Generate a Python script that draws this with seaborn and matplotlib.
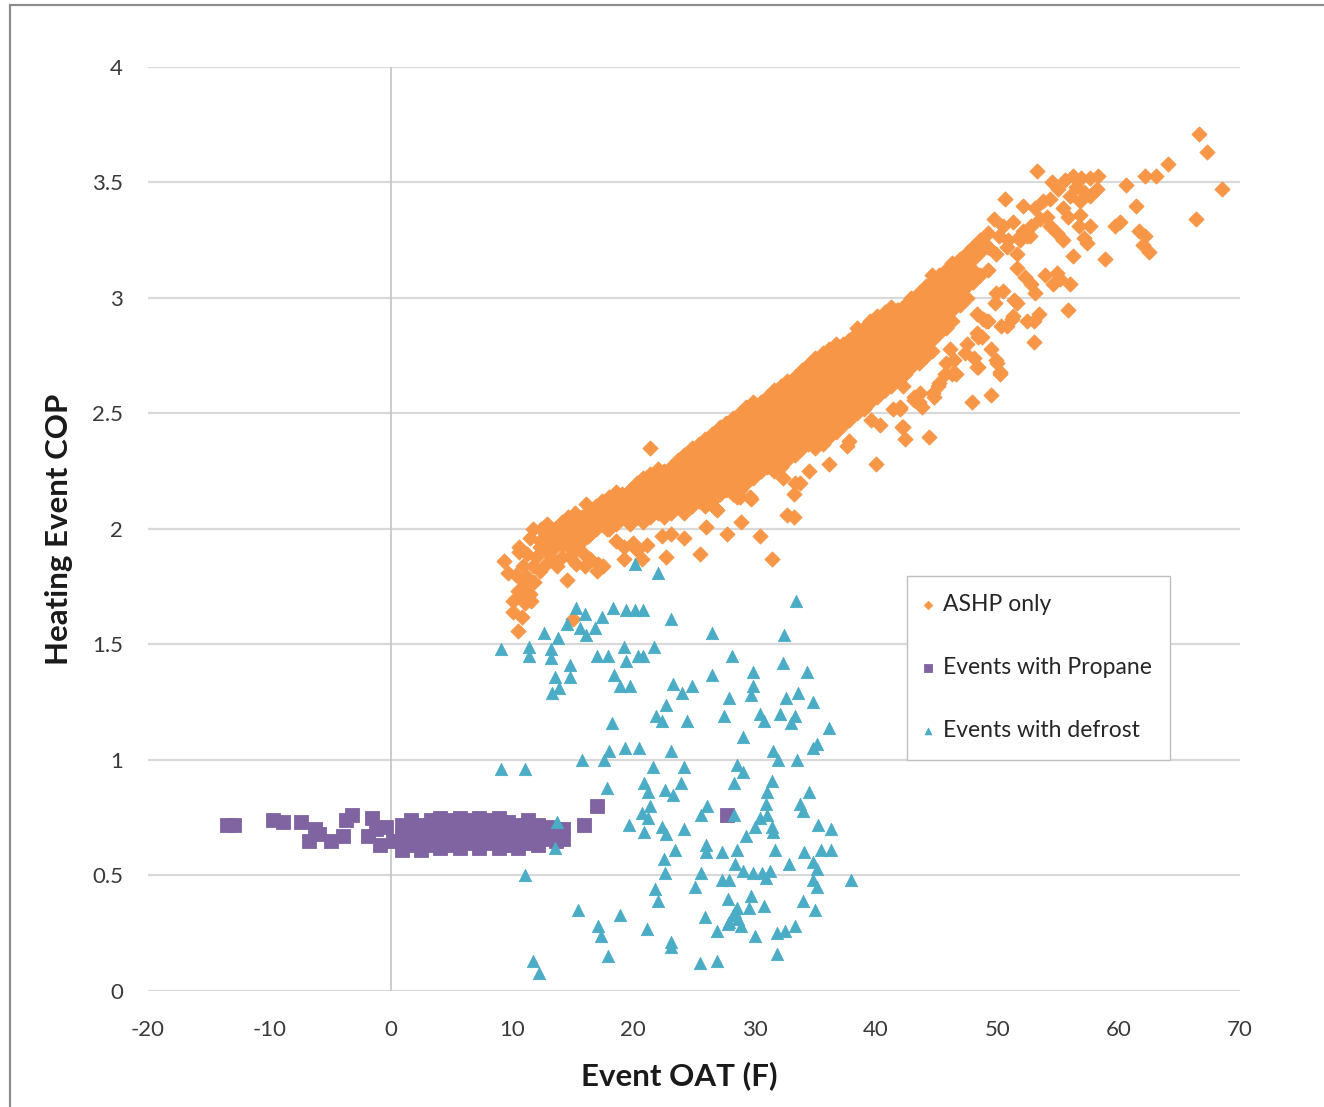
import pandas as pd
import seaborn as sns
import matplotlib.pyplot as plt
from matplotlib.patches import Rectangle

# ---- data: (Event OAT F, Heating Event COP) ----

# ASHP only: scattered events around the main band
ashp_pts = [
    (66.6, 3.71), (67.3, 3.63), (68.5, 3.47), (66.4, 3.34), (64.1, 3.58), (63.1, 3.53), (62.2, 3.53),
    (60.6, 3.49), (61.4, 3.40), (60.1, 3.33), (59.7, 3.31), (61.7, 3.29), (62.2, 3.27), (62.0, 3.23),
    (62.5, 3.20), (58.9, 3.17), (53.3, 3.55), (50.6, 3.43), (52.1, 3.40), (53.1, 3.39), (53.8, 3.42),
    (54.3, 3.43), (54.5, 3.50), (55.0, 3.47), (55.6, 3.51), (56.2, 3.53), (56.9, 3.52), (57.6, 3.52),
    (58.3, 3.53), (56.5, 3.48), (57.1, 3.46), (57.6, 3.44), (58.2, 3.47), (56.0, 3.44), (56.8, 3.42),
    (55.4, 3.39), (55.8, 3.35), (56.8, 3.36), (57.6, 3.31), (56.7, 3.31), (57.1, 3.26), (57.4, 3.24),
    (55.4, 3.25), (56.2, 3.18), (54.9, 3.28), (54.3, 3.31), (53.5, 3.34), (54.1, 3.35), (52.8, 3.31),
    (52.4, 3.27), (51.9, 3.25), (53.9, 3.10), (54.9, 3.11), (54.6, 3.06), (55.2, 3.08), (56.0, 3.06),
    (55.8, 2.95), (51.6, 3.13), (52.3, 3.09), (52.8, 3.06), (53.1, 3.02), (53.4, 2.93), (53.0, 2.90),
    (52.4, 2.90), (51.3, 2.92), (50.8, 2.88), (50.3, 2.88), (51.6, 2.98), (53.0, 2.81), (49.8, 2.98),
    (49.9, 3.02), (50.5, 3.03), (49.2, 2.90), (48.8, 2.91), (48.3, 2.93), (48.3, 2.85), (48.7, 2.83),
    (49.5, 2.78), (49.9, 2.73), (50.2, 2.68), (49.5, 2.58), (47.9, 2.55), (48.1, 2.74), (48.4, 2.70),
    (47.3, 2.76), (46.1, 2.78), (46.4, 2.73), (46.6, 2.67), (45.7, 2.67), (45.1, 2.62), (44.8, 2.57),
    (44.4, 2.40), (42.2, 2.44), (42.0, 2.53), (43.3, 2.56), (43.8, 2.53),
    (49.7, 3.34), (50.5, 3.31), (51.3, 3.33), (52.1, 3.29), (50.1, 3.27), (50.9, 3.25), (51.9, 3.27),
    (52.7, 3.27), (49.2, 3.22), (49.9, 3.19), (50.8, 3.22), (51.6, 3.19), (47.6, 3.20), (48.1, 3.18),
    (46.9, 3.15), (46.1, 3.11), (45.3, 3.09), (43.8, 3.02), (44.4, 3.03), (42.5, 2.96), (41.7, 2.95),
    (41.1, 2.92), (39.5, 2.89), (38.4, 2.87),
    (43.5, 2.55), (44.7, 2.59), (45.2, 2.63), (46.3, 2.67), (45.8, 2.72), (47.5, 2.80), (48.4, 2.83),
    (50.0, 2.72), (50.2, 2.67), (48.3, 2.70), (49.1, 2.90), (51.2, 2.91), (51.4, 2.99), (42.0, 2.52),
    (43.1, 2.57), (42.2, 2.62),
    (21.4, 2.35), (16.1, 2.11), (11.7, 2.00), (13.0, 2.00), (13.8, 2.00), (11.5, 1.96), (12.3, 1.95),
    (12.3, 1.92), (10.6, 1.92), (10.6, 1.90), (9.3, 1.86), (9.7, 1.81), (10.9, 1.84), (11.7, 1.84),
    (12.3, 1.82), (11.2, 1.79), (10.9, 1.75), (11.5, 1.72), (10.6, 1.71), (10.1, 1.69), (10.1, 1.64),
    (11.6, 1.69), (10.5, 1.56), (13.5, 1.92), (14.1, 1.88), (13.7, 1.84), (14.5, 1.78), (14.9, 1.98),
    (15.6, 1.95), (14.8, 1.88), (15.9, 1.89), (16.4, 1.87), (15.3, 1.85), (16.0, 1.84), (17.1, 1.85),
    (17.5, 1.84), (17.0, 1.82), (16.4, 2.04), (17.2, 2.02), (16.4, 1.98), (17.8, 2.00), (18.3, 2.04),
    (18.6, 1.95), (19.2, 1.92), (20.0, 1.94), (20.3, 1.91), (21.1, 1.93), (19.2, 1.87), (20.7, 1.87),
    (22.7, 1.88), (22.4, 1.97), (23.1, 1.98), (24.2, 1.96), (25.5, 1.89), (26.0, 2.01), (27.7, 1.98),
    (28.9, 2.03), (30.4, 1.97), (31.4, 1.87), (32.3, 2.22), (28.5, 2.14), (29.7, 2.13), (26.9, 2.08),
    (15.0, 1.61), (33.2, 2.05), (26.7, 2.09), (29.6, 2.14), (28.8, 2.14), (33.3, 2.20), (33.7, 2.20),
    (33.2, 2.15), (34.5, 2.25), (36.1, 2.28), (37.6, 2.36), (37.8, 2.38), (40.0, 2.28), (42.1, 2.44),
    (41.4, 2.52), (40.3, 2.45), (39.6, 2.47), (43.1, 2.56), (43.6, 2.59), (32.7, 2.06), (42.4, 2.39),
    (10.3, 1.80), (11.0, 1.77), (11.8, 1.77), (10.5, 1.73), (11.1, 1.68), (10.8, 1.62), (12.0, 1.88),
    (11.2, 1.89), (12.9, 1.90), (13.3, 1.87), (14.5, 1.93), (15.2, 1.91), (13.9, 1.96), (12.8, 1.85),
]

# ASHP only: dense core of the band, read column by column (OAT, [COP, ...])
ashp_core = [
    (12.4, [1.95, 2.00]), (12.9, [1.92, 1.97, 2.02]), (13.5, [1.95, 2.00]),
    (14.1, [1.93, 1.98, 2.03]), (14.6, [1.95, 2.00, 2.05]), (15.2, [1.97, 2.02, 2.07]),
    (15.8, [1.95, 2.00, 2.05]), (16.3, [1.97, 2.02, 2.07]), (16.9, [2.00, 2.05, 2.10]),
    (17.4, [2.02, 2.07, 2.12]), (18.0, [2.00, 2.05, 2.10, 2.14]), (18.6, [2.02, 2.07, 2.12, 2.16]),
    (19.1, [2.05, 2.10, 2.15]), (19.7, [2.02, 2.07, 2.12, 2.17]), (20.3, [2.05, 2.10, 2.15, 2.20]),
    (20.8, [2.03, 2.08, 2.13, 2.18, 2.22]), (21.4, [2.05, 2.10, 2.15, 2.20, 2.24]),
    (22.0, [2.07, 2.12, 2.17, 2.22, 2.26]), (22.5, [2.05, 2.10, 2.15, 2.20, 2.25]),
    (23.1, [2.07, 2.12, 2.17, 2.22, 2.27]), (23.7, [2.10, 2.15, 2.20, 2.25, 2.30]),
    (24.2, [2.07, 2.12, 2.17, 2.22, 2.27, 2.32]), (24.8, [2.10, 2.15, 2.20, 2.25, 2.30, 2.35]),
    (25.4, [2.12, 2.17, 2.22, 2.27, 2.32, 2.37]), (25.9, [2.10, 2.15, 2.20, 2.25, 2.30, 2.35, 2.39]),
    (26.5, [2.12, 2.17, 2.22, 2.27, 2.32, 2.37, 2.41]), (27.1, [2.15, 2.20, 2.25, 2.30, 2.35, 2.40, 2.44]),
    (27.6, [2.17, 2.22, 2.27, 2.32, 2.37, 2.42, 2.46]),
    (28.2, [2.15, 2.20, 2.25, 2.30, 2.35, 2.40, 2.45, 2.48]),
    (28.8, [2.17, 2.22, 2.27, 2.32, 2.37, 2.42, 2.47, 2.50]),
    (29.3, [2.20, 2.25, 2.30, 2.35, 2.40, 2.45, 2.50, 2.53]),
    (29.9, [2.22, 2.27, 2.32, 2.37, 2.42, 2.47, 2.52, 2.55]),
    (30.5, [2.25, 2.30, 2.35, 2.40, 2.45, 2.50, 2.55]),
    (31.0, [2.27, 2.32, 2.37, 2.42, 2.47, 2.52, 2.57]),
    (31.6, [2.25, 2.30, 2.35, 2.40, 2.45, 2.50, 2.55, 2.60]),
    (32.2, [2.27, 2.32, 2.37, 2.42, 2.47, 2.52, 2.57, 2.62]),
    (32.7, [2.30, 2.35, 2.40, 2.45, 2.50, 2.55, 2.60, 2.64]),
    (33.3, [2.32, 2.37, 2.42, 2.47, 2.52, 2.57, 2.62, 2.66]),
    (33.9, [2.35, 2.40, 2.45, 2.50, 2.55, 2.60, 2.65, 2.69]),
    (34.4, [2.37, 2.42, 2.47, 2.52, 2.57, 2.62, 2.67, 2.71]),
    (35.0, [2.35, 2.40, 2.45, 2.50, 2.55, 2.60, 2.65, 2.70, 2.74]),
    (35.6, [2.37, 2.42, 2.47, 2.52, 2.57, 2.62, 2.67, 2.72, 2.76]),
    (36.1, [2.40, 2.45, 2.50, 2.55, 2.60, 2.65, 2.70, 2.75, 2.78]),
    (36.7, [2.42, 2.47, 2.52, 2.57, 2.62, 2.67, 2.72, 2.77, 2.80]),
    (37.3, [2.45, 2.50, 2.55, 2.60, 2.65, 2.70, 2.75, 2.80]),
    (37.8, [2.47, 2.52, 2.57, 2.62, 2.67, 2.72, 2.77, 2.82]),
    (38.4, [2.50, 2.55, 2.60, 2.65, 2.70, 2.75, 2.80, 2.85]),
    (39.0, [2.52, 2.57, 2.62, 2.67, 2.72, 2.77, 2.82, 2.87]),
    (39.5, [2.55, 2.60, 2.65, 2.70, 2.75, 2.80, 2.85, 2.90]),
    (40.1, [2.57, 2.62, 2.67, 2.72, 2.77, 2.82, 2.87, 2.92]),
    (40.7, [2.60, 2.65, 2.70, 2.75, 2.80, 2.85, 2.90, 2.94]),
    (41.2, [2.62, 2.67, 2.72, 2.77, 2.82, 2.87, 2.92, 2.96]),
    (41.8, [2.65, 2.70, 2.75, 2.80, 2.85, 2.90, 2.95]),
    (42.4, [2.67, 2.72, 2.77, 2.82, 2.87, 2.92, 2.97]),
    (42.9, [2.70, 2.75, 2.80, 2.85, 2.90, 2.95, 3.00]),
    (43.5, [2.72, 2.77, 2.82, 2.87, 2.92, 2.97, 3.02]),
    (44.1, [2.75, 2.80, 2.85, 2.90, 2.95, 3.00, 3.05]),
    (44.6, [2.77, 2.82, 2.87, 2.92, 2.97, 3.02, 3.07, 3.10]),
    (45.2, [2.85, 2.90, 2.95, 3.00, 3.05, 3.10]),
    (45.8, [2.87, 2.92, 2.97, 3.02, 3.07, 3.12]),
    (46.3, [2.90, 2.95, 3.00, 3.05, 3.10, 3.15]),
    (46.9, [2.97, 3.02, 3.07, 3.12, 3.17]),
    (47.5, [3.00, 3.05, 3.10, 3.15]),
    (48.0, [3.07, 3.12, 3.17, 3.22]),
    (48.6, [3.10, 3.20, 3.25]),
    (49.2, [3.12, 3.22, 3.28]),
]

# Events with propane: isolated squares
propane_pts = [
    (-13.5, 0.72), (-12.9, 0.72), (-9.7, 0.74), (-8.9, 0.73), (-7.4, 0.73), (-6.7, 0.65), (-6.2, 0.70),
    (-5.9, 0.68), (-4.9, 0.65), (-3.9, 0.67), (-3.7, 0.74), (-3.2, 0.76), (-1.9, 0.67), (-1.5, 0.75),
    (-1.2, 0.70), (-0.9, 0.63), (-0.4, 0.71), (0.2, 0.65), (15.9, 0.72), (17.0, 0.80), (27.7, 0.76),
]

# Events with propane: dense block between 0 and 15 F
propane_core = [
    (0.9, [0.61, 0.67, 0.72]), (1.7, [0.63, 0.69, 0.74]), (2.5, [0.61, 0.66, 0.72]),
    (3.3, [0.63, 0.68, 0.74]), (4.1, [0.62, 0.67, 0.72, 0.75]), (4.9, [0.63, 0.69, 0.74]),
    (5.7, [0.62, 0.67, 0.72, 0.75]), (6.5, [0.64, 0.69, 0.74]), (7.3, [0.62, 0.67, 0.72, 0.75]),
    (8.1, [0.64, 0.69, 0.74]), (8.9, [0.62, 0.67, 0.72, 0.75]), (9.7, [0.63, 0.68, 0.73]),
    (10.5, [0.62, 0.67, 0.72]), (11.3, [0.64, 0.69, 0.74]), (12.1, [0.63, 0.68, 0.72]),
    (12.9, [0.66, 0.71]), (13.6, [0.65, 0.70]), (14.2, [0.66, 0.70]),
]

# Events with defrost
defrost_pts = [
    (20.1, 1.85), (22.0, 1.81), (33.4, 1.69), (15.3, 1.66), (16.0, 1.63), (18.3, 1.66), (19.4, 1.65),
    (20.1, 1.65), (20.8, 1.65), (17.4, 1.62), (23.1, 1.61), (14.5, 1.59), (15.6, 1.57), (16.8, 1.57),
    (16.1, 1.54), (12.6, 1.55), (13.8, 1.53), (26.5, 1.55), (32.4, 1.54), (9.1, 1.48), (11.4, 1.49),
    (11.4, 1.45), (13.2, 1.48), (13.2, 1.44), (17.0, 1.45), (17.9, 1.45), (19.2, 1.49), (19.4, 1.43),
    (20.4, 1.45), (20.8, 1.45), (21.7, 1.49), (28.1, 1.45), (32.3, 1.42), (14.8, 1.41), (14.8, 1.36),
    (13.5, 1.36), (13.9, 1.31), (13.3, 1.29), (18.4, 1.37), (18.9, 1.32), (19.7, 1.32), (26.5, 1.37),
    (29.9, 1.38), (34.3, 1.38), (23.3, 1.33), (24.0, 1.29), (24.8, 1.32), (29.9, 1.32), (29.7, 1.28),
    (27.9, 1.27), (32.6, 1.27), (33.6, 1.29), (34.8, 1.25), (22.7, 1.24), (21.9, 1.19), (22.4, 1.17),
    (24.4, 1.17), (27.5, 1.19), (30.4, 1.20), (30.8, 1.17), (32.1, 1.20), (33.3, 1.19), (33.0, 1.16),
    (18.2, 1.16), (36.1, 1.14), (29.0, 1.10), (34.8, 1.05), (35.1, 1.07), (18.0, 1.04), (19.3, 1.05),
    (20.5, 1.05), (23.1, 1.04), (15.8, 1.00), (17.6, 1.00), (9.1, 0.96), (11.1, 0.96), (21.6, 0.97),
    (24.2, 0.97), (31.5, 1.04), (31.9, 1.00), (33.5, 1.00), (28.5, 0.98), (29.0, 0.95), (17.8, 0.88),
    (20.9, 0.90), (21.2, 0.86), (22.6, 0.87), (23.3, 0.85), (23.9, 0.90), (28.3, 0.90), (31.4, 0.91),
    (31.0, 0.86), (34.5, 0.86), (21.4, 0.80), (20.7, 0.77), (21.2, 0.75), (26.1, 0.80), (25.6, 0.76),
    (30.9, 0.81), (31.0, 0.76), (30.4, 0.75), (33.7, 0.81), (34.0, 0.78), (28.3, 0.76), (13.7, 0.73),
    (13.5, 0.62), (19.6, 0.72), (20.9, 0.69), (22.4, 0.71), (22.7, 0.68), (24.2, 0.70), (30.0, 0.71),
    (31.4, 0.71), (31.5, 0.69), (35.2, 0.72), (36.3, 0.70), (29.3, 0.67), (23.4, 0.61), (22.5, 0.57),
    (26.0, 0.63), (26.0, 0.60), (27.3, 0.60), (28.5, 0.61), (31.7, 0.61), (35.5, 0.61), (36.3, 0.61),
    (34.1, 0.60), (34.8, 0.56), (35.1, 0.53), (28.4, 0.55), (29.0, 0.52), (29.9, 0.51), (30.6, 0.51),
    (31.3, 0.52), (30.9, 0.49), (32.8, 0.55), (22.6, 0.51), (11.1, 0.50), (25.6, 0.51), (25.1, 0.45),
    (27.3, 0.48), (27.9, 0.48), (34.8, 0.48), (35.1, 0.45), (37.9, 0.48), (21.8, 0.44), (22.0, 0.39),
    (27.8, 0.40), (29.7, 0.41), (29.5, 0.36), (28.5, 0.36), (30.8, 0.37), (34.0, 0.39), (35.0, 0.35),
    (28.2, 0.33), (28.6, 0.31), (27.9, 0.30), (27.8, 0.29), (28.4, 0.34), (15.4, 0.35), (18.9, 0.33),
    (25.9, 0.32), (17.1, 0.28), (17.3, 0.24), (21.1, 0.27), (23.1, 0.21), (23.1, 0.19), (28.9, 0.28),
    (26.9, 0.26), (30.0, 0.24), (31.8, 0.25), (32.5, 0.26), (33.3, 0.28), (17.9, 0.15), (31.8, 0.16),
    (25.5, 0.12), (26.9, 0.13), (11.7, 0.13), (12.2, 0.08),
]

x_ticks = [-20, -10, 0, 10, 20, 30, 40, 50, 60, 70]
y_ticks = [0, 0.5, 1, 1.5, 2, 2.5, 3, 3.5, 4]
y_labels = ["0", "0.5", "1", "1.5", "2", "2.5", "3", "3.5", "4"]


def to_frame(points, core=()):
    rows = list(points)
    for x, ys in core:
        rows += [(x, y) for y in ys]
    return pd.DataFrame(rows, columns=["oat", "cop"])


ashp = to_frame(ashp_pts, ashp_core)
propane = to_frame(propane_pts, propane_core)
defrost = to_frame(defrost_pts)

sns.set_theme(style="white")
plt.rcParams["font.family"] = ["Lato", "DejaVu Sans"]
plt.rcParams["axes.unicode_minus"] = False

fig = plt.figure(figsize=(13.24, 11.07), dpi=100)
ax = fig.add_axes([0.1118, 0.1048, 0.8248, 0.8347])

sns.scatterplot(data=ashp, x="oat", y="cop", marker="D", s=60, color="#F79646",
                edgecolor="#F79646", linewidth=0.6, label="ASHP only", ax=ax, zorder=3)
sns.scatterplot(data=propane, x="oat", y="cop", marker="s", s=95, color="#8064A2",
                edgecolor="#8064A2", linewidth=0.6, label="Events with Propane", ax=ax, zorder=4)
sns.scatterplot(data=defrost, x="oat", y="cop", marker="^", s=78, color="#4BACC6",
                edgecolor="#4BACC6", linewidth=0.6, label="Events with defrost", ax=ax, zorder=5)

ax.set_xlim(-20, 70)
ax.set_ylim(0, 4)
ax.set_xticks(x_ticks)
ax.set_yticks(y_ticks)
ax.set_yticklabels(y_labels)
ax.yaxis.grid(True, color="#d9d9d9", linewidth=1.6)
ax.xaxis.grid(False)
ax.set_axisbelow(True)
ax.axvline(0, color="#c4c4c4", linewidth=1.2, zorder=1)
for s in ax.spines.values():
    s.set_visible(False)
ax.tick_params(axis="both", length=0, labelsize=16, labelcolor="#3a3a3a")
ax.tick_params(axis="y", pad=18)
ax.tick_params(axis="x", pad=21)

ax.set_xlabel("Event OAT (F)", fontsize=22.5, fontweight="bold", color="#1a1a1a")
ax.set_ylabel("Heating Event COP", fontsize=22.5, fontweight="bold", color="#1a1a1a", labelpad=14)
ax.xaxis.set_label_coords(0.486, -0.076)

leg = ax.legend(loc="upper left", bbox_to_anchor=(0.695, 0.449), borderaxespad=0,
                fontsize=16.5, frameon=True, fancybox=False, framealpha=1,
                edgecolor="#bfbfbf", markerscale=0.55, labelspacing=1.83,
                handlelength=0.25, handletextpad=0.5, borderpad=0.8)
leg.get_frame().set_linewidth(1.0)
for t in leg.get_texts():
    t.set_color("#262626")

# outer chart frame (cut off at right and bottom in the original)
fig.patches.append(Rectangle((0.0075, -0.05), 1.2, 1.0455, transform=fig.transFigure,
                             fill=False, edgecolor="#8c8c8c", linewidth=1.6))

fig.savefig("out.png", dpi=100)
